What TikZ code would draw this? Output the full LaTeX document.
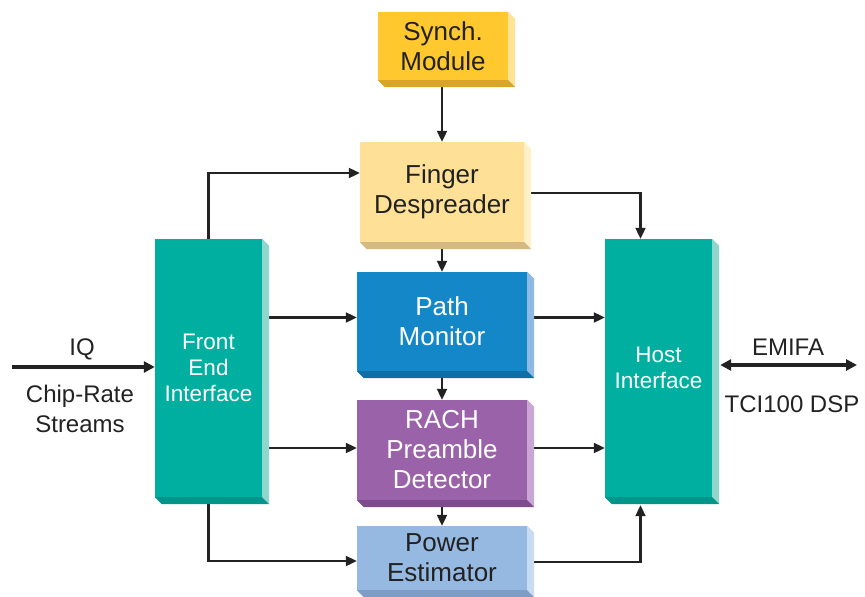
\documentclass[tikz,border=0pt]{standalone}
\usepackage{fontspec}
\setmainfont{Liberation Sans}
\usetikzlibrary{arrows.meta,calc,backgrounds}
\definecolor{ink}{HTML}{222222}
\definecolor{syF}{HTML}{FFC82E}\definecolor{syS}{HTML}{FFE396}\definecolor{syB}{HTML}{D9A524}
\definecolor{fiF}{HTML}{FFE097}\definecolor{fiS}{HTML}{FFF0C8}\definecolor{fiB}{HTML}{D5B982}
\definecolor{teF}{HTML}{00AFA0}\definecolor{teS}{HTML}{8FD6CD}\definecolor{teB}{HTML}{00958A}
\definecolor{paF}{HTML}{1387C8}\definecolor{paS}{HTML}{8DB9E3}\definecolor{paB}{HTML}{0F6EA6}
\definecolor{raF}{HTML}{9A62A8}\definecolor{raS}{HTML}{C9A6D6}\definecolor{raB}{HTML}{7E4B8E}
\definecolor{poF}{HTML}{96B9E2}\definecolor{poS}{HTML}{C9DBF1}\definecolor{poB}{HTML}{7E9DC6}
\newcommand\boxfaces[3]{%
  \fill[#2] (#1.north east) -- ++(7,7) -- ($(#1.south east)+(7,7)$) -- (#1.south east) -- cycle;
  \fill[#3] (#1.south west) -- (#1.south east) -- ++(7,7) -- ($(#1.south west)+(7,7)$) -- cycle;}
\begin{document}
\begin{tikzpicture}[x=1pt,y=-1pt,
  blk/.style={inner sep=0pt,align=center,font=\fontsize{26}{30}\selectfont},
  tall/.style={inner sep=0pt,align=center,font=\fontsize{22.5}{26}\selectfont,text=white},
  lbl/.style={inner sep=0pt,align=center,font=\fontsize{24}{30}\selectfont,text=ink},
  conn/.style={draw=ink,line width=2.1pt,-{Triangle[length=11pt,width=10pt]}},
  bigarr/.style={draw=ink,line width=3.4pt,-{Triangle[length=11pt,width=11pt]}},
  dblarr/.style={draw=ink,line width=3.4pt,{Triangle[length=11pt,width=11pt]}-{Triangle[length=11pt,width=11pt]}}]
\useasboundingbox (0,0) rectangle (865,597);
% boxes
\node[blk,fill=syF,text=ink,minimum width=130pt,minimum height=68pt] (sync) at (443,46) {Synch.\\Module};
\node[blk,fill=fiF,text=ink,minimum width=164pt,minimum height=100pt] (finger) at (442,192) {Finger\\Despreader};
\node[tall,fill=teF,minimum width=107pt,minimum height=258pt] (front) at (208.5,368) {Front\\End\\Interface};
\node[blk,fill=paF,text=white,minimum width=170pt,minimum height=99pt] (path) at (442,321.5) {Path\\Monitor};
\node[blk,fill=raF,text=white,minimum width=170pt,minimum height=100pt] (rach) at (442,450) {RACH\\Preamble\\Detector};
\node[blk,fill=poF,text=ink,minimum width=170pt,minimum height=64pt] (power) at (442,558) {Power\\Estimator};
\node[tall,fill=teF,minimum width=107pt,minimum height=258pt] (host) at (658.5,368) {Host\\Interface};
\boxfaces{sync}{syS}{syB}
\boxfaces{finger}{fiS}{fiB}
\boxfaces{front}{teS}{teB}
\boxfaces{path}{paS}{paB}
\boxfaces{rach}{raS}{raB}
\boxfaces{power}{poS}{poB}
\boxfaces{host}{teS}{teB}
% labels
\coordinate (iq) at (12,367);
\coordinate (emifa) at (857,365);
\node[lbl,anchor=base] (iqtxt) at (82,355) {IQ};
\node[lbl] (chip) at (80,409) {Chip-Rate\\Streams};
\node[lbl,anchor=base] (emtxt) at (788,355) {EMIFA};
\node[lbl,anchor=base] (tci) at (792,412) {TCI100 DSP};
\begin{pgfonlayer}{background}
\draw[conn] (finger.north |- sync.south) -- (finger.north);
\draw[conn] (front.north) |- ($(finger.west)+(0,-19)$);
\draw[conn] ($(finger.east)+(0,1)$) -| ($(host.north)+(-18,0)$);
\draw[conn] (finger.south) -- (path.north);
\draw[conn] ($(path.west -| front.east)+(0,-4)$) -- ($(path.west)+(0,-4)$);
\draw[conn] ($(path.east)+(0,-4)$) -- ($(path.east -| host.west)+(0,-4)$);
\draw[conn] (path.south) -- (rach.north);
\draw[conn] ($(rach.west -| front.east)+(0,-2)$) -- ($(rach.west)+(0,-2)$);
\draw[conn] ($(rach.east)+(0,-2)$) -- ($(rach.east -| host.west)+(0,-2)$);
\draw[conn] (rach.south) -- (power.north);
\draw[conn] (front.south) |- ($(power.west)+(0,3)$);
\draw[conn] ($(power.east)+(0,4)$) -| ($(host.south)+(-18,8)$);
\draw[bigarr] (iq) -- (iq -| front.west);
\draw[dblarr] ($(emifa -| host.east)+(8,0)$) -- (emifa);
\end{pgfonlayer}
\end{tikzpicture}
\end{document}
